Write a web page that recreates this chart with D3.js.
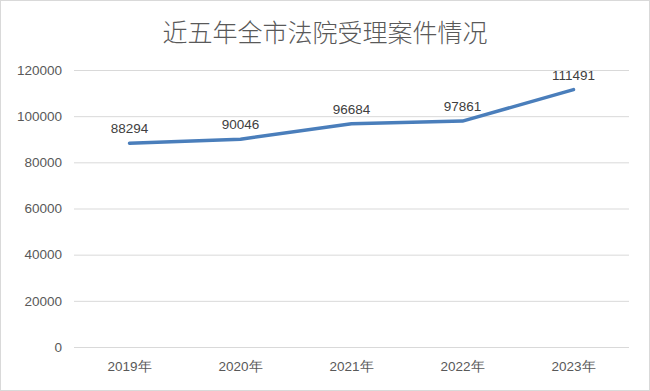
<!DOCTYPE html>
<html>
<head>
<meta charset="utf-8">
<script src="https://cdn.jsdelivr.net/npm/d3@7"></script>
<style>
  body { margin: 0; background: #fff; }
  svg { display: block; font-family: "Liberation Sans", "Noto Sans CJK SC", sans-serif; }
</style>
</head>
<body>
<svg id="chart" width="650" height="391"></svg>
<script>
const years = ["2019年", "2020年", "2021年", "2022年", "2023年"];
const cases = [88294, 90046, 96684, 97861, 111491];
const yTicks = [0, 20000, 40000, 60000, 80000, 100000, 120000];
const title = "近五年全市法院受理案件情况";

const margin = { top: 70, right: 21, bottom: 44, left: 74 },
      width = 650 - margin.left - margin.right,
      height = 391 - margin.top - margin.bottom;

const svg = d3.select("#chart");

svg.append("rect")
    .attr("x", 0.5).attr("y", 0.5)
    .attr("width", 649).attr("height", 390)
    .attr("fill", "#fff")
    .attr("stroke", "#d9d9d9");

svg.append("text")
    .attr("x", 325)
    .attr("y", 42)
    .attr("text-anchor", "middle")
    .style("font-family", "'Noto Sans CJK SC', sans-serif")
    .style("font-weight", 300)
    .style("font-size", "25px")
    .style("fill", "#595959")
    .text(title);

const g = svg.append("g")
    .attr("transform", `translate(${margin.left},${margin.top})`);

const x = d3.scaleBand()
    .domain(years)
    .range([0, width]);

const y = d3.scaleLinear()
    .domain([0, 120000])
    .range([height, 0]);

// gridlines
g.append("g")
    .call(d3.axisLeft(y).tickValues(yTicks).tickSize(-width).tickFormat(""))
    .call(a => a.select(".domain").remove())
    .selectAll("line")
    .attr("stroke", "#d9d9d9");

// y labels
g.append("g")
    .call(d3.axisLeft(y).tickValues(yTicks).tickSize(0).tickPadding(12).tickFormat(d3.format("d")))
    .call(a => a.select(".domain").remove())
    .selectAll("text")
    .style("font-size", "13.5px")
    .style("fill", "#595959");

// x labels
g.append("g")
    .attr("transform", `translate(0,${height})`)
    .call(d3.axisBottom(x).tickSize(0).tickPadding(14))
    .call(a => a.select(".domain").remove())
    .selectAll("text")
    .style("font-size", "13.5px")
    .style("fill", "#595959");

const line = d3.line()
    .x((d, i) => x(years[i]) + x.bandwidth() / 2)
    .y(d => y(d));

g.append("path")
    .datum(cases)
    .attr("fill", "none")
    .attr("stroke", "#4a7ebb")
    .attr("stroke-width", 3.5)
    .attr("stroke-linecap", "round")
    .attr("stroke-linejoin", "round")
    .attr("d", line);

g.selectAll(".lbl")
    .data(cases)
    .enter().append("text")
    .attr("class", "lbl")
    .attr("x", (d, i) => x(years[i]) + x.bandwidth() / 2)
    .attr("y", d => y(d) - 10)
    .attr("text-anchor", "middle")
    .style("font-size", "13.5px")
    .style("fill", "#404040")
    .text(d => d);
</script>
</body>
</html>
